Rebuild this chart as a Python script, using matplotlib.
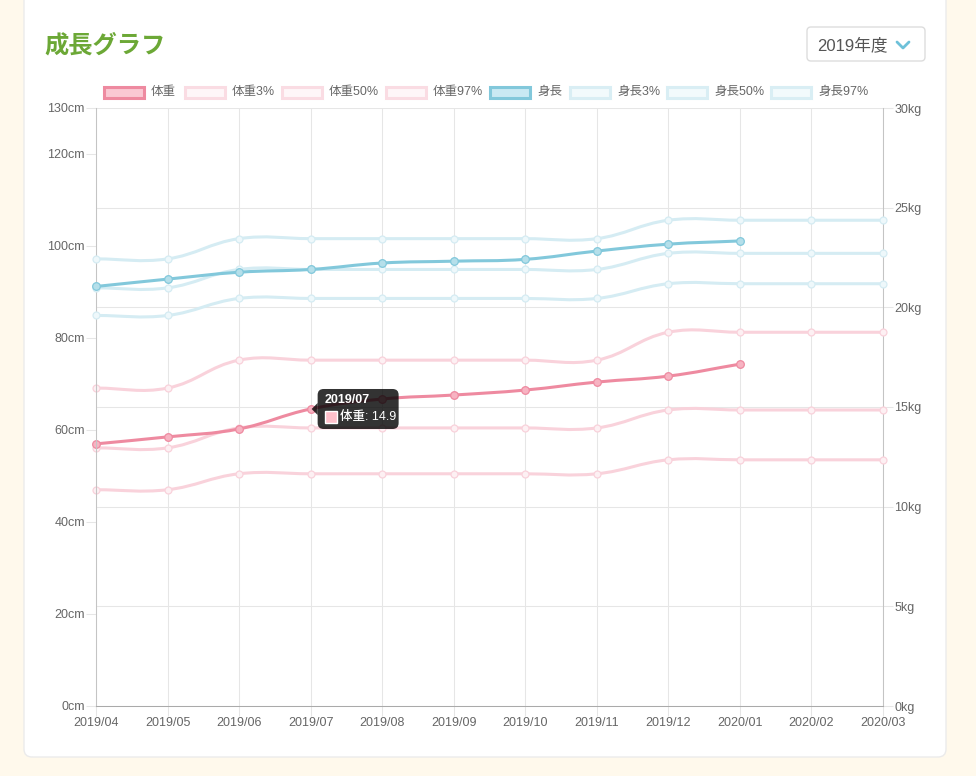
import numpy as np
import matplotlib
matplotlib.use("Agg")
import matplotlib.pyplot as plt
from matplotlib.path import Path
from matplotlib.patches import PathPatch, FancyBboxPatch, Rectangle, Polygon
from matplotlib.lines import Line2D
from matplotlib.transforms import IdentityTransform

# ---- data ----
months = ["2019/04", "2019/05", "2019/06", "2019/07", "2019/08", "2019/09",
          "2019/10", "2019/11", "2019/12", "2020/01", "2020/02", "2020/03"]

weight = [13.15, 13.5, 13.9, 14.9, 15.4, 15.6, 15.85, 16.25, 16.55, 17.15]
weight_p3 = [10.85, 10.85, 11.65, 11.65, 11.65, 11.65, 11.65, 11.65, 12.35, 12.35, 12.35, 12.35]
weight_p50 = [12.95, 12.95, 13.95, 13.95, 13.95, 13.95, 13.95, 13.95, 14.85, 14.85, 14.85, 14.85]
weight_p97 = [15.95, 15.95, 17.35, 17.35, 17.35, 17.35, 17.35, 17.35, 18.75, 18.75, 18.75, 18.75]

height = [91.2, 92.8, 94.3, 94.9, 96.3, 96.7, 97.1, 98.9, 100.4, 101.1]
height_p3 = [84.9, 84.9, 88.6, 88.6, 88.6, 88.6, 88.6, 88.6, 91.8, 91.8, 91.8, 91.8]
height_p50 = [90.9, 90.9, 94.9, 94.9, 94.9, 94.9, 94.9, 94.9, 98.4, 98.4, 98.4, 98.4]
height_p97 = [97.2, 97.2, 101.6, 101.6, 101.6, 101.6, 101.6, 101.6, 105.6, 105.6, 105.6, 105.6]

cm_ticks = [0, 20, 40, 60, 80, 100, 120, 130]
kg_ticks = [0, 5, 10, 15, 20, 25, 30]

legend_labels = ["体重", "体重3%", "体重50%", "体重97%", "身長", "身長3%", "身長50%", "身長97%"]

# ---- style ----
W, H = 976, 776
PINK = "#EE8AA0"
PINK_FILL = "#F7B3C2"
PINK_LIGHT = "#F9D2DB"
BLUE = "#82C8DB"
BLUE_FILL = "#B5DFEA"
BLUE_LIGHT = "#D5ECF3"
FONT = ["Liberation Sans", "Noto Sans CJK JP"]
TICK_C = "#666666"
GRID_C = "#e6e6e6"
AXIS_C = "#c4c4c4"

plt.rcParams["font.family"] = FONT

fig = plt.figure(figsize=(W / 100, H / 100), dpi=100)
fig.patch.set_facecolor("#FFF9EC")
ID = IdentityTransform()

# white card
fig.add_artist(FancyBboxPatch((24, H - 757), 922, 820,
                              boxstyle="round,pad=0,rounding_size=8",
                              fc="white", ec="#ebebeb", lw=1,
                              transform=ID, zorder=-5))

# axes: plot area px 96..883 x 108..706
ax1 = fig.add_axes([96 / W, 1 - 706 / H, (883 - 96) / W, (706 - 108) / H])
ax2 = ax1.twinx()
ax1.set_zorder(2)
ax2.set_zorder(1)
ax1.patch.set_visible(False)
ax2.patch.set_visible(False)

x = np.arange(len(months))
ax1.set_xlim(0, len(months) - 1)
ax1.set_ylim(0, 130)
ax2.set_ylim(0, 30)

ax1.set_xticks(x)
ax1.set_xticklabels(months)
ax1.set_yticks(cm_ticks)
ax1.set_yticklabels([f"{v}cm" for v in cm_ticks])
ax2.set_yticks(kg_ticks)
ax2.set_yticklabels([f"{v}kg" for v in kg_ticks])

for a in (ax1, ax2):
    for s in a.spines.values():
        s.set_visible(False)
    a.tick_params(colors=GRID_C, labelcolor=TICK_C, labelsize=9, length=7, width=0.75, pad=1)
ax1.spines["left"].set_visible(True)
ax1.spines["bottom"].set_visible(True)
ax2.spines["right"].set_visible(True)
ax1.spines["left"].set_color(AXIS_C)
ax1.spines["bottom"].set_color("#aaaaaa")
ax2.spines["right"].set_color(AXIS_C)
for s in ("left", "bottom"):
    ax1.spines[s].set_linewidth(0.75)
ax2.spines["right"].set_linewidth(0.75)

ax2.xaxis.set_visible(True)
ax2.tick_params(axis="x", bottom=False, top=False, labelbottom=False, labeltop=False)
ax2.grid(True, color=GRID_C, lw=0.75)
ax2.set_axisbelow(True)


def smooth_path(ax, xs, ys, t=0.4):
    # same bezier control points as Chart.js (tension 0.4)
    pts = ax.transData.transform(np.column_stack([xs, ys]))
    n = len(pts)
    cp_prev, cp_next = [], []
    for i in range(n):
        prev = pts[max(i - 1, 0)]
        cur = pts[i]
        nxt = pts[min(i + 1, n - 1)]
        d01 = np.hypot(*(cur - prev))
        d12 = np.hypot(*(nxt - cur))
        tot = d01 + d12
        s01 = d01 / tot if tot else 0
        s12 = d12 / tot if tot else 0
        cp_prev.append(cur - t * s01 * (nxt - prev))
        cp_next.append(cur + t * s12 * (nxt - prev))
    verts = [pts[0]]
    codes = [Path.MOVETO]
    for i in range(1, n):
        verts += [cp_next[i - 1], cp_prev[i], pts[i]]
        codes += [Path.CURVE4] * 3
    return Path(ax.transData.inverted().transform(np.array(verts)), codes)


def draw_series(ax, ys, color, fill, z, lw=2.2, ms=5):
    xs = np.arange(len(ys))
    ax.add_patch(PathPatch(smooth_path(ax, xs, ys), fill=False, ec=color, lw=lw,
                           capstyle="round", joinstyle="round", zorder=z, clip_on=False))
    ax.plot(xs, ys, "o", ms=ms, mfc=fill, mec=color, mew=0.9, zorder=z + 0.1, clip_on=False)


draw_series(ax2, weight_p97, PINK_LIGHT, "#FDF0F3", 3)
draw_series(ax2, weight_p50, PINK_LIGHT, "#FDF0F3", 3.2)
draw_series(ax2, weight_p3, PINK_LIGHT, "#FDF0F3", 3.4)
draw_series(ax2, weight, PINK, PINK_FILL, 4, ms=5.5)

draw_series(ax1, height_p97, BLUE_LIGHT, "#EEF8FB", 3)
draw_series(ax1, height_p50, BLUE_LIGHT, "#EEF8FB", 3.2)
draw_series(ax1, height_p3, BLUE_LIGHT, "#EEF8FB", 3.4)
draw_series(ax1, height, BLUE, BLUE_FILL, 4, ms=5.5)

# ---- title and dropdown ----
fig.text(44, H - 46, "成長グラフ", transform=ID, fontsize=17.5, fontweight="bold",
         color="#6CA836", family="Noto Sans CJK JP", va="center", ha="left")
fig.add_artist(FancyBboxPatch((807, H - 61), 118, 34, boxstyle="round,pad=0,rounding_size=4",
                              fc="white", ec="#dddddd", lw=1, transform=ID))
fig.text(817, H - 45, "2019年度", transform=ID, fontsize=12, color="#555555",
         va="center", ha="left")
fig.add_artist(Line2D([897, 903, 909], [H - 42, H - 48, H - 42], transform=ID,
                      color="#6EC1D9", lw=2, solid_capstyle="round", solid_joinstyle="round"))

# ---- legend ----
leg_x = [103, 184, 281, 385, 489, 569, 666, 770]
leg_fc = ["#FAC8D3", "#FEF6F8", "#FEF6F8", "#FEF6F8", "#C9E9F3", "#F2FAFC", "#F2FAFC", "#F2FAFC"]
leg_ec = [PINK, "#FADCE3", "#FADCE3", "#FADCE3", BLUE, "#D9EEF4", "#D9EEF4", "#D9EEF4"]
for lx, lab, fc, ec in zip(leg_x, legend_labels, leg_fc, leg_ec):
    fig.add_artist(Rectangle((lx + 1, H - 98), 40, 11, fc=fc, ec=ec, lw=2.2, transform=ID))
    fig.text(lx + 48, H - 92, lab, transform=ID, fontsize=9, color=TICK_C, va="center", ha="left")

# ---- tooltip on 2019/07 ----
ti = 3
px, py = ax2.transData.transform((ti, weight[ti]))
bx, bw, bh = px + 7, 81, 40
fig.add_artist(FancyBboxPatch((bx, py - bh / 2), bw, bh, boxstyle="round,pad=0,rounding_size=6",
                              fc=(0, 0, 0, 0.8), ec="none", transform=ID, zorder=10))
fig.add_artist(Polygon([[px + 1, py], [bx, py + 6], [bx, py - 6]], closed=True,
                       fc=(0, 0, 0, 0.8), ec="none", transform=ID, zorder=10))
fig.text(bx + 7, py + 9, months[ti], transform=ID, fontsize=9, fontweight="bold",
         color="white", va="center", ha="left", zorder=11)
fig.add_artist(Rectangle((bx + 7, py - 14), 12, 12, fc="#FFC0CB", ec="white", lw=1,
                         transform=ID, zorder=11))
fig.text(bx + 22, py - 8, f"{legend_labels[0]}: {weight[ti]:.1f}", transform=ID, fontsize=9,
         fontweight="medium", color="white", va="center", ha="left", zorder=11)

fig.savefig("out.png", dpi=100, facecolor=fig.get_facecolor())
